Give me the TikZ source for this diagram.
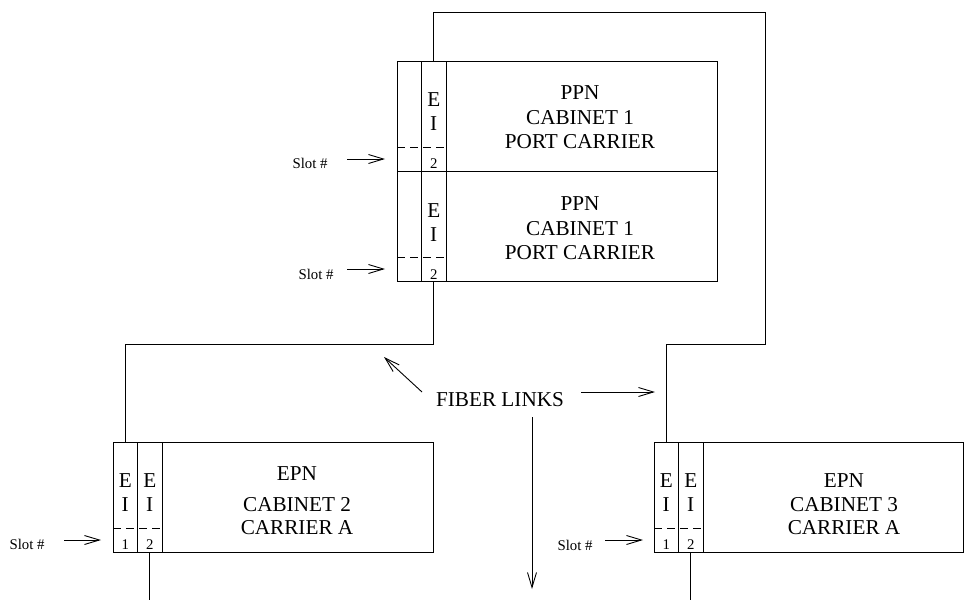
\documentclass[tikz,border=0pt]{standalone}
\usepackage{fontspec}
\setmainfont{Liberation Serif}
\usetikzlibrary{arrows.meta}
\begin{document}
\begin{tikzpicture}[x=0.5pt,y=-0.5pt, line width=0.45pt,
  big/.style={font=\fontsize{10.6}{12}\selectfont, anchor=base, inner sep=0pt},
  small/.style={font=\fontsize{7.4}{8}\selectfont, anchor=base, inner sep=0pt},
  carrierbox/.style={draw, anchor=north west, inner sep=0pt, outer sep=0pt, minimum height=55pt},
  slotcol/.style={draw, anchor=north west, inner sep=0pt, outer sep=0pt, minimum height=55pt, minimum width=12.25pt},
  dashline/.style={dash pattern=on 4pt off 2.5pt},
  arr/.style={-{Straight Barb[length=7.5pt,width=4.5pt]}}]
\useasboundingbox (0,0) rectangle (967,600);

% ---------- PPN upper carrier
\node[carrierbox, minimum width=160pt] (ppnA) at (397,61) {};
\node[slotcol] (ppnA1) at (ppnA.north west) {};
\node[slotcol] (ppnA2) at (ppnA1.north east) {};
\draw[dashline] (ppnA1.west |- 0,147) -- (ppnA2.east |- 0,147);
\node[big] (ppnAe) at (ppnA2.center |- 0,106) {E};
\node[big] (ppnAi) at (ppnA2.center |- 0,130) {I};
\node[small] (ppnAn) at (ppnA2.center |- 0,168) {2};
\node[big] (ppnAt1) at (580,99) {PPN};
\node[big] (ppnAt2) at (580,124) {CABINET 1};
\node[big] (ppnAt3) at (580,148) {PORT CARRIER};

% ---------- PPN lower carrier
\node[carrierbox, minimum width=160pt] (ppnB) at (ppnA.south west) {};
\node[slotcol] (ppnB1) at (ppnB.north west) {};
\node[slotcol] (ppnB2) at (ppnB1.north east) {};
\draw[dashline] (ppnB1.west |- 0,257) -- (ppnB2.east |- 0,257);
\node[big] (ppnBe) at (ppnB2.center |- 0,217) {E};
\node[big] (ppnBi) at (ppnB2.center |- 0,241) {I};
\node[small] (ppnBn) at (ppnB2.center |- 0,279) {2};
\node[big] (ppnBt1) at (580,210) {PPN};
\node[big] (ppnBt2) at (580,235) {CABINET 1};
\node[big] (ppnBt3) at (580,259) {PORT CARRIER};

% ---------- EPN cabinet 2
\node[carrierbox, minimum width=160pt] (epnL) at (113,442) {};
\node[slotcol] (eL1) at (epnL.north west) {};
\node[slotcol] (eL2) at (eL1.north east) {};
\draw[dashline] (eL1.west |- 0,528) -- (eL2.east |- 0,528);
\node[big] (eL1e) at (eL1.center |- 0,487) {E};
\node[big] (eL1i) at (eL1.center |- 0,511) {I};
\node[big] (eL2e) at (eL2.center |- 0,487) {E};
\node[big] (eL2i) at (eL2.center |- 0,511) {I};
\node[small] (eL1n) at (eL1.center |- 0,549) {1};
\node[small] (eL2n) at (eL2.center |- 0,549) {2};
\node[big] (epnLt1) at (297,480) {EPN};
\node[big] (epnLt2) at (297,511) {CABINET 2};
\node[big] (epnLt3) at (297,534) {CARRIER A};

% ---------- EPN cabinet 3
\node[carrierbox, minimum width=154.5pt] (epnR) at (654,442) {};
\node[slotcol] (eR1) at (epnR.north west) {};
\node[slotcol] (eR2) at (eR1.north east) {};
\draw[dashline] (eR1.west |- 0,528) -- (eR2.east |- 0,528);
\node[big] (eR1e) at (eR1.center |- 0,487) {E};
\node[big] (eR1i) at (eR1.center |- 0,511) {I};
\node[big] (eR2e) at (eR2.center |- 0,487) {E};
\node[big] (eR2i) at (eR2.center |- 0,511) {I};
\node[small] (eR1n) at (eR1.center |- 0,549) {1};
\node[small] (eR2n) at (eR2.center |- 0,549) {2};
\node[big] (epnRt1) at (844,487) {EPN};
\node[big] (epnRt2) at (844,511) {CABINET 3};
\node[big] (epnRt3) at (844,534) {CARRIER A};

% ---------- fibre links (wires)
\draw (ppnA2.north) |- (765,12) -- (765,344) -| (eR1.north);
\draw (ppnB2.south) -- (ppnB2.south |- 0,344) -| (eL1.north);
\coordinate (outL) at (eL2.south |- 0,600);
\coordinate (outR) at (eR2.south |- 0,600);
\draw (eL2.south) -- (outL);
\draw (eR2.south) -- (outR);

% ---------- FIBER LINKS label and arrows
\node[big] (fiber) at (500,406) {FIBER LINKS};
\coordinate (fa1s) at (422,392);
\coordinate (fa1e) at (384,357);
\coordinate (fa2s) at (581,392);
\coordinate (fa2e) at (655,392);
\coordinate (fa3s) at (532,417);
\coordinate (fa3e) at (532,589);
\draw[arr] (fa1s) -- (fa1e);
\draw[arr] (fa2s) -- (fa2e);
\draw[arr] (fa3s) -- (fa3e);

% ---------- Slot # labels
\node[small] (slotA) at (310,168) {Slot \#};
\node[small] (slotB) at (316,279) {Slot \#};
\node[small] (slotL) at (27,549) {Slot \#};
\node[small] (slotR) at (575,550) {Slot \#};
\draw[arr, shorten >=6pt] (347,159) -- (ppnA1.west |- 0,159);
\draw[arr, shorten >=6pt] (347,269) -- (ppnB1.west |- 0,269);
\draw[arr, shorten >=6pt] (64,540) -- (eL1.west |- 0,540);
\draw[arr, shorten >=5.5pt] (605,540) -- (eR1.west |- 0,540);
\end{tikzpicture}
\end{document}
